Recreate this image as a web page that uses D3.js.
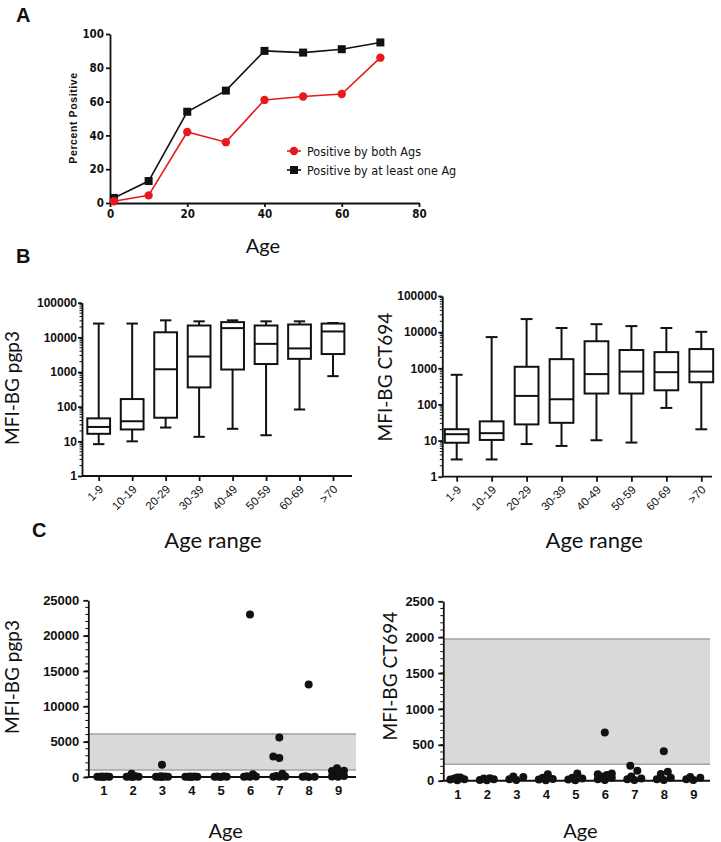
<!DOCTYPE html>
<html>
<head>
<meta charset="utf-8">
<script src="https://cdn.jsdelivr.net/npm/d3@7"></script>
<style>
  body { margin: 0; background: #fff; }
  svg { display: block; }
</style>
</head>
<body>
<div id="chart"></div>
<script>
// ---------- data ----------
// A: percent positive by age
const ageA = [1, 10, 20, 30, 40, 50, 60, 70];
const bothAgs = [1, 4.5, 42, 36, 61, 63, 64.5, 86];
const atLeastOneAg = [3, 13, 54, 66.5, 90, 89, 91, 95];
const ticksA_x = [0, 20, 40, 60, 80];
const ticksA_y = [0, 20, 40, 60, 80, 100];

// B: box plots (min, q1, median, q3, max) by age range
const ageRanges = ["1-9", "10-19", "20-29", "30-39", "40-49", "50-59", "60-69", ">70"];
const pgp3Min = [8.3, 10, 25, 13.5, 23, 15, 83, 760];
const pgp3Q1  = [16.5, 22, 48, 360, 1180, 1700, 2400, 3300];
const pgp3Med = [26, 38, 1200, 2800, 18500, 6500, 4800, 14800];
const pgp3Q3  = [46, 166, 14000, 22000, 27500, 22000, 23500, 25000];
const pgp3Max = [25000, 25000, 31000, 29000, 31000, 29000, 29000, 26000];

const ct694Min = [3, 3, 8, 7.1, 10.2, 8.8, 80, 20.5];
const ct694Q1  = [8.7, 10.4, 28, 31, 200, 200, 246, 410];
const ct694Med = [15, 16, 172, 139, 690, 810, 780, 810];
const ct694Q3  = [20.6, 34, 1100, 1790, 5600, 3200, 2800, 3400];
const ct694Max = [660, 7300, 23000, 13000, 16600, 14700, 13000, 10200];
const ticksLog = [1, 10, 100, 1000, 10000, 100000];

// C: individual values by age
const ageGroups = [1, 2, 3, 4, 5, 6, 7, 8, 9];
const pgp3ByAge = [
  [10, 20, 30, 40, 60, 80],
  [10, 20, 40, 60, 90, 450],
  [10, 20, 30, 50, 80, 120, 1750],
  [10, 20, 30, 40, 60, 80],
  [10, 20, 40, 70, 110],
  [20, 40, 60, 90, 380, 23000],
  [20, 40, 80, 150, 450, 2700, 2900, 5600],
  [10, 30, 50, 100, 13100],
  [30, 80, 150, 350, 600, 850, 900, 1250]
];
const ct694ByAge = [
  [5, 15, 20, 30, 45, 45],
  [5, 10, 20, 30, 35],
  [10, 20, 50, 60],
  [5, 15, 25, 40, 90],
  [5, 15, 30, 40, 100],
  [10, 20, 40, 60, 80, 90, 100, 670],
  [10, 20, 30, 60, 140, 210],
  [10, 20, 40, 95, 125, 410],
  [10, 20, 40, 50]
];
const pgp3Band = [1000, 6100];
const ct694Band = [230, 1975];
const ticksC1 = [0, 5000, 10000, 15000, 20000, 25000];
const ticksC2 = [0, 500, 1000, 1500, 2000, 2500];

// ---------- setup ----------
const W = 721, H = 842;
const svg = d3.select("#chart").append("svg").attr("width", W).attr("height", H);
svg.append("rect").attr("width", W).attr("height", H).attr("fill", "#fff");

const narrow = "'Liberation Sans Narrow','Arial Narrow','DejaVu Sans Condensed',sans-serif";
const arial = "'Liberation Sans',Arial,sans-serif";
const human = "Lato,'Open Sans',sans-serif";
const ink = "#111";

function styleAxis(g, font, size, weight) {
  g.selectAll("path,line").attr("stroke", ink).attr("stroke-width", 1.8);
  g.selectAll("text").attr("fill", ink)
    .style("font-family", font).style("font-size", size + "px").style("font-weight", weight);
}

function addText(x, y, txt, opts) {
  const t = svg.append("text").attr("x", x).attr("y", y).text(txt)
    .attr("fill", ink)
    .style("font-family", opts.font || human)
    .style("font-size", opts.size + "px")
    .style("font-weight", opts.weight || "normal")
    .attr("text-anchor", opts.anchor || "middle");
  if (opts.rotate) t.attr("transform", `rotate(-90,${x},${y})`);
  return t;
}

// panel letters
addText(16, 22, "A", { font: arial, size: 20, weight: "bold", anchor: "start" });
addText(16, 263, "B", { font: arial, size: 20, weight: "bold", anchor: "start" });
addText(32, 537, "C", { font: arial, size: 20, weight: "bold", anchor: "start" });

// ---------- panel A ----------
const xA = d3.scaleLinear().domain([0, 80]).range([110, 419]);
const yA = d3.scaleLinear().domain([0, 100]).range([203, 34]);

const gA = svg.append("g");
gA.append("g").attr("transform", `translate(0,${yA(0)})`)
  .call(d3.axisBottom(xA).tickValues(ticksA_x).tickSize(4).tickSizeOuter(0).tickPadding(3))
  .call(g => styleAxis(g, narrow, 11.5, "bold"));
gA.append("g").attr("transform", `translate(${xA(0)},0)`)
  .call(d3.axisLeft(yA).tickValues(ticksA_y).tickSize(4).tickSizeOuter(0).tickPadding(2))
  .call(g => styleAxis(g, narrow, 11.5, "bold"));

const line = d3.line().x(d => xA(d[0])).y(d => yA(d[1]));
const redPts = ageA.map((a, i) => [a, bothAgs[i]]);
const blackPts = ageA.map((a, i) => [a, atLeastOneAg[i]]);

gA.append("path").datum(blackPts).attr("d", line)
  .attr("fill", "none").attr("stroke", ink).attr("stroke-width", 1.6);
gA.append("path").datum(redPts).attr("d", line)
  .attr("fill", "none").attr("stroke", "#e8191c").attr("stroke-width", 1.6);

gA.selectAll("rect.sq").data(blackPts).join("rect").attr("class", "sq")
  .attr("x", d => xA(d[0]) - 4).attr("y", d => yA(d[1]) - 4)
  .attr("width", 8).attr("height", 8).attr("fill", ink);
gA.selectAll("circle.rd").data(redPts).join("circle").attr("class", "rd")
  .attr("cx", d => xA(d[0])).attr("cy", d => yA(d[1])).attr("r", 4.2)
  .attr("fill", "#e8191c");

// legend
const legA = gA.append("g").attr("transform", "translate(287,151)");
legA.append("line").attr("x1", 0).attr("x2", 14).attr("stroke", "#e8191c").attr("stroke-width", 1.6);
legA.append("circle").attr("cx", 7).attr("r", 4.2).attr("fill", "#e8191c");
legA.append("text").attr("x", 20).attr("y", 4.5).text("Positive by both Ags")
  .attr("fill", ink).style("font-family", narrow).style("font-size", "12.5px");
legA.append("line").attr("x1", 0).attr("x2", 14).attr("y1", 19).attr("y2", 19).attr("stroke", ink).attr("stroke-width", 1.6);
legA.append("rect").attr("x", 3).attr("y", 15).attr("width", 8).attr("height", 8).attr("fill", ink);
legA.append("text").attr("x", 20).attr("y", 23.5).text("Positive by at least one Ag")
  .attr("fill", ink).style("font-family", narrow).style("font-size", "12.5px");

addText(77, 118, "Percent Positive", { font: arial, size: 10.5, weight: "bold", rotate: true })
  .style("letter-spacing", "0.6px");
addText(263, 253, "Age", { size: 20 });

// ---------- panel B ----------
function boxPanel(cfg) {
  const x = d3.scalePoint().domain(ageRanges).range([cfg.c0, cfg.c1]);
  const y = d3.scaleLog().domain([1, 100000]).range([cfg.yBot, cfg.yTop]);
  const g = svg.append("g");

  // minor log ticks
  const minor = [];
  [1, 10, 100, 1000, 10000].forEach(e => d3.range(2, 10).forEach(k => minor.push(k * e)));
  g.selectAll("line.minor").data(minor).join("line").attr("class", "minor")
    .attr("x1", cfg.x0 - 2.5).attr("x2", cfg.x0)
    .attr("y1", d => y(d)).attr("y2", d => y(d))
    .attr("stroke", ink).attr("stroke-width", 1);

  g.append("g").attr("transform", `translate(${cfg.x0},0)`)
    .call(d3.axisLeft(y).tickValues(ticksLog).tickFormat(d3.format("d")).tickSize(4).tickSizeOuter(0).tickPadding(1))
    .call(a => styleAxis(a, arial, 12, "bold"));

  const xa = g.append("g").attr("transform", `translate(0,${cfg.yBot})`)
    .call(d3.axisBottom(x).tickSize(5).tickSizeOuter(0))
    .call(a => styleAxis(a, arial, 11.5, "normal"));
  xa.select(".domain").remove();
  xa.selectAll("text").attr("text-anchor", "end")
    .attr("x", 0).attr("y", 0).attr("dy", "0.35em")
    .attr("transform", "translate(2,11) rotate(-45)");
  g.append("line").attr("x1", cfg.x0).attr("x2", cfg.x1).attr("y1", cfg.yBot).attr("y2", cfg.yBot)
    .attr("stroke", ink).attr("stroke-width", 1.8);

  const rows = ageRanges.map((r, i) => ({
    r, min: cfg.mins[i], q1: cfg.q1s[i], med: cfg.meds[i], q3: cfg.q3s[i], max: cfg.maxs[i]
  }));
  const bw = x.step() * 0.68, cw = x.step() * 0.34;
  const b = g.selectAll("g.box").data(rows).join("g").attr("class", "box")
    .attr("stroke", ink).attr("stroke-width", 2).attr("fill", "none");
  b.append("line").attr("x1", d => x(d.r)).attr("x2", d => x(d.r))
    .attr("y1", d => y(d.max)).attr("y2", d => y(d.q3));
  b.append("line").attr("x1", d => x(d.r)).attr("x2", d => x(d.r))
    .attr("y1", d => y(d.q1)).attr("y2", d => y(d.min));
  b.append("line").attr("x1", d => x(d.r) - cw / 2).attr("x2", d => x(d.r) + cw / 2)
    .attr("y1", d => y(d.max)).attr("y2", d => y(d.max));
  b.append("line").attr("x1", d => x(d.r) - cw / 2).attr("x2", d => x(d.r) + cw / 2)
    .attr("y1", d => y(d.min)).attr("y2", d => y(d.min));
  b.append("rect").attr("x", d => x(d.r) - bw / 2).attr("width", bw)
    .attr("y", d => y(d.q3)).attr("height", d => y(d.q1) - y(d.q3)).attr("fill", "#fff");
  b.append("line").attr("x1", d => x(d.r) - bw / 2).attr("x2", d => x(d.r) + bw / 2)
    .attr("y1", d => y(d.med)).attr("y2", d => y(d.med));

  addText(cfg.labelX, cfg.labelY, cfg.title, { size: 19, rotate: true });
  addText((cfg.x0 + cfg.x1) / 2 + cfg.xlabShift, 548, "Age range", { size: 22 });
}

boxPanel({
  x0: 82, x1: 352, c0: 98.7, c1: 333, yTop: 302.7, yBot: 476,
  mins: pgp3Min, q1s: pgp3Q1, meds: pgp3Med, q3s: pgp3Q3, maxs: pgp3Max,
  title: "MFI-BG pgp3", labelX: 19, labelY: 388, xlabShift: -4
});
boxPanel({
  x0: 442.3, x1: 712, c0: 456.7, c1: 701.3, yTop: 296, yBot: 476.7,
  mins: ct694Min, q1s: ct694Q1, meds: ct694Med, q3s: ct694Q3, maxs: ct694Max,
  title: "MFI-BG CT694", labelX: 392, labelY: 377, xlabShift: 17
});

// ---------- panel C ----------
function swarm(values, cx, y, minDist, maxW) {
  const placed = [];
  values.slice().sort((a, b) => a - b).forEach(v => {
    const py = y(v);
    let best = cx, bestD = -1;
    for (let k = 0; k <= maxW * 2; k++) {
      const o = k % 2 ? -Math.ceil(k / 2) : k / 2;
      const px = cx + o;
      const d = placed.length ? d3.min(placed, p => Math.hypot(p.x - px, p.y - py)) : Infinity;
      if (d >= minDist) { best = px; break; }
      if (d > bestD) { bestD = d; best = px; }
    }
    placed.push({ x: best, y: py, v });
  });
  return placed;
}

function dotPanel(cfg) {
  const x = d3.scalePoint().domain(ageGroups).range([cfg.c0, cfg.c1]);
  const y = d3.scaleLinear().domain([0, cfg.max]).range([cfg.yBot, cfg.yTop]);
  const g = svg.append("g");

  // reference band
  g.append("rect").attr("x", cfg.x0).attr("width", cfg.x1 - cfg.x0)
    .attr("y", y(cfg.band[1])).attr("height", y(cfg.band[0]) - y(cfg.band[1]))
    .attr("fill", "#d9d9d9");
  cfg.band.forEach(v => g.append("line").attr("x1", cfg.x0).attr("x2", cfg.x1)
    .attr("y1", y(v)).attr("y2", y(v)).attr("stroke", "#a3a3a3").attr("stroke-width", 1.5));

  // minor ticks
  g.selectAll("line.minor").data(d3.range(0, cfg.max, cfg.minorStep)).join("line").attr("class", "minor")
    .attr("x1", cfg.x0 - 3).attr("x2", cfg.x0)
    .attr("y1", d => y(d)).attr("y2", d => y(d))
    .attr("stroke", ink).attr("stroke-width", 1);

  g.append("g").attr("transform", `translate(${cfg.x0},0)`)
    .call(d3.axisLeft(y).tickValues(cfg.ticks).tickFormat(d3.format("d")).tickSize(5).tickSizeOuter(0).tickPadding(4))
    .call(a => styleAxis(a, arial, 13, "bold"));

  const xa = g.append("g").attr("transform", `translate(0,${cfg.yBot})`)
    .call(d3.axisBottom(x).tickSize(3).tickSizeOuter(0).tickPadding(6))
    .call(a => styleAxis(a, arial, 13, "bold"));
  xa.select(".domain").remove();
  g.append("line").attr("x1", cfg.x0).attr("x2", cfg.x1).attr("y1", cfg.yBot).attr("y2", cfg.yBot)
    .attr("stroke", ink).attr("stroke-width", 2);

  const pts = cfg.data.flatMap((vals, i) => swarm(vals, x(ageGroups[i]), y, 8, cfg.maxW));
  g.selectAll("circle").data(pts).join("circle")
    .attr("cx", d => d.x).attr("cy", d => d.y).attr("r", 4).attr("fill", ink);

  addText(cfg.labelX, cfg.labelY, cfg.title, { size: 19, rotate: true });
  addText((cfg.c0 + cfg.c1) / 2 + 5, 838, "Age", { size: 20 });
}

dotPanel({
  x0: 88.3, x1: 356, c0: 103.3, c1: 338, yTop: 600.3, yBot: 777, max: 25000,
  ticks: ticksC1, minorStep: 1000, band: pgp3Band, data: pgp3ByAge, maxW: 6,
  title: "MFI-BG pgp3", labelX: 19, labelY: 677
});
dotPanel({
  x0: 443.3, x1: 710, c0: 457.3, c1: 693.3, yTop: 601.3, yBot: 780.7, max: 2500,
  ticks: ticksC2, minorStep: 100, band: ct694Band, data: ct694ByAge, maxW: 7,
  title: "MFI-BG CT694", labelX: 397, labelY: 676
});
</script>
</body>
</html>
